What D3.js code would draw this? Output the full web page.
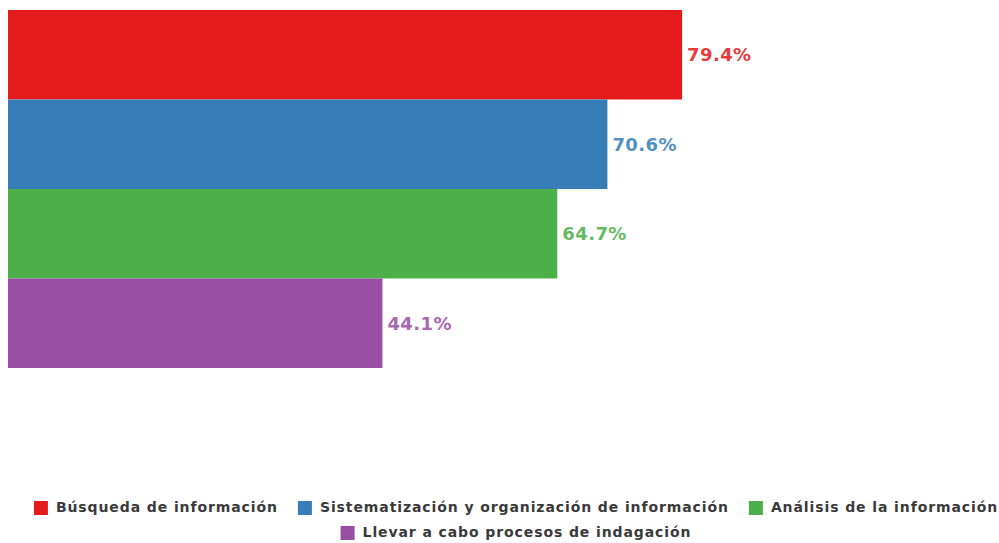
<!DOCTYPE html>
<html>
<head>
<meta charset="utf-8">
<script src="https://cdn.jsdelivr.net/npm/d3@7"></script>
<style>
  body { margin: 0; background: #fff; }
  svg { display: block; }
</style>
</head>
<body>
<svg id="svg"></svg>
<script>
const categories = [
  "Búsqueda de información",
  "Sistematización y organización de información",
  "Análisis de la información",
  "Llevar a cabo procesos de indagación"
];
const values = [79.4, 70.6, 64.7, 44.1];
const colors = ["#e41a1c", "#377eb8", "#4daf4a", "#984ea3"];

const layout = {
  width: 999, height: 543,
  marginTop: 10, marginLeft: 8,
  plotRight: 857, plotBottom: 368
};

const svg = d3.select("#svg")
  .attr("width", layout.width)
  .attr("height", layout.height);

const xScale = d3.scaleLinear()
  .domain([0, 100])
  .range([layout.marginLeft, layout.plotRight]);

const yScale = d3.scaleBand()
  .domain(categories)
  .range([layout.marginTop, layout.plotBottom])
  .padding(0);

const color = d3.scaleOrdinal().domain(categories).range(colors);

const data = categories.map((c, i) => ({ cat: c, val: values[i] }));

svg.append("g")
  .selectAll("rect")
  .data(data)
  .join("rect")
  .attr("x", xScale(0))
  .attr("y", d => yScale(d.cat))
  .attr("width", d => xScale(d.val) - xScale(0))
  .attr("height", yScale.bandwidth())
  .attr("fill", d => color(d.cat));

svg.append("g")
  .selectAll("text")
  .data(data)
  .join("text")
  .attr("x", d => xScale(d.val) + 5)
  .attr("y", d => yScale(d.cat) + yScale.bandwidth() / 2)
  .attr("dy", "0.35em")
  .attr("fill", d => color(d.cat))
  .style("font-family", "'DejaVu Sans', sans-serif")
  .style("font-size", "18px")
  .style("font-weight", "bold")
  .style("letter-spacing", "0.4px")
  .style("opacity", 0.85)
  .text(d => d.val.toFixed(1) + "%");

// legend, centred rows that wrap
const legend = svg.append("g")
  .style("font-family", "'DejaVu Sans', sans-serif")
  .style("font-size", "14px")
  .style("font-weight", "bold")
  .style("letter-spacing", "0.9px");

const items = legend.selectAll("g")
  .data(categories)
  .join("g");

items.append("rect")
  .attr("width", 14).attr("height", 14)
  .attr("y", -11)
  .attr("fill", d => color(d));

items.append("text")
  .attr("x", 22)
  .attr("fill", "#3a3a3a")
  .text(d => d);

const gap = 20, maxW = 990, rowH = 25, firstRow = 512;
let rows = [[]], rowW = [0];
items.each(function() {
  const w = this.getBBox().width;
  let r = rows.length - 1;
  if (rowW[r] > 0 && rowW[r] + gap + w > maxW) { rows.push([]); rowW.push(0); r++; }
  rowW[r] += (rowW[r] > 0 ? gap : 0) + w;
  rows[r].push({ node: this, w: w });
});
rows.forEach((row, r) => {
  let x = 516 - rowW[r] / 2;
  row.forEach(it => {
    d3.select(it.node).attr("transform", `translate(${x},${firstRow + r * rowH})`);
    x += it.w + gap;
  });
});
</script>
</body>
</html>
